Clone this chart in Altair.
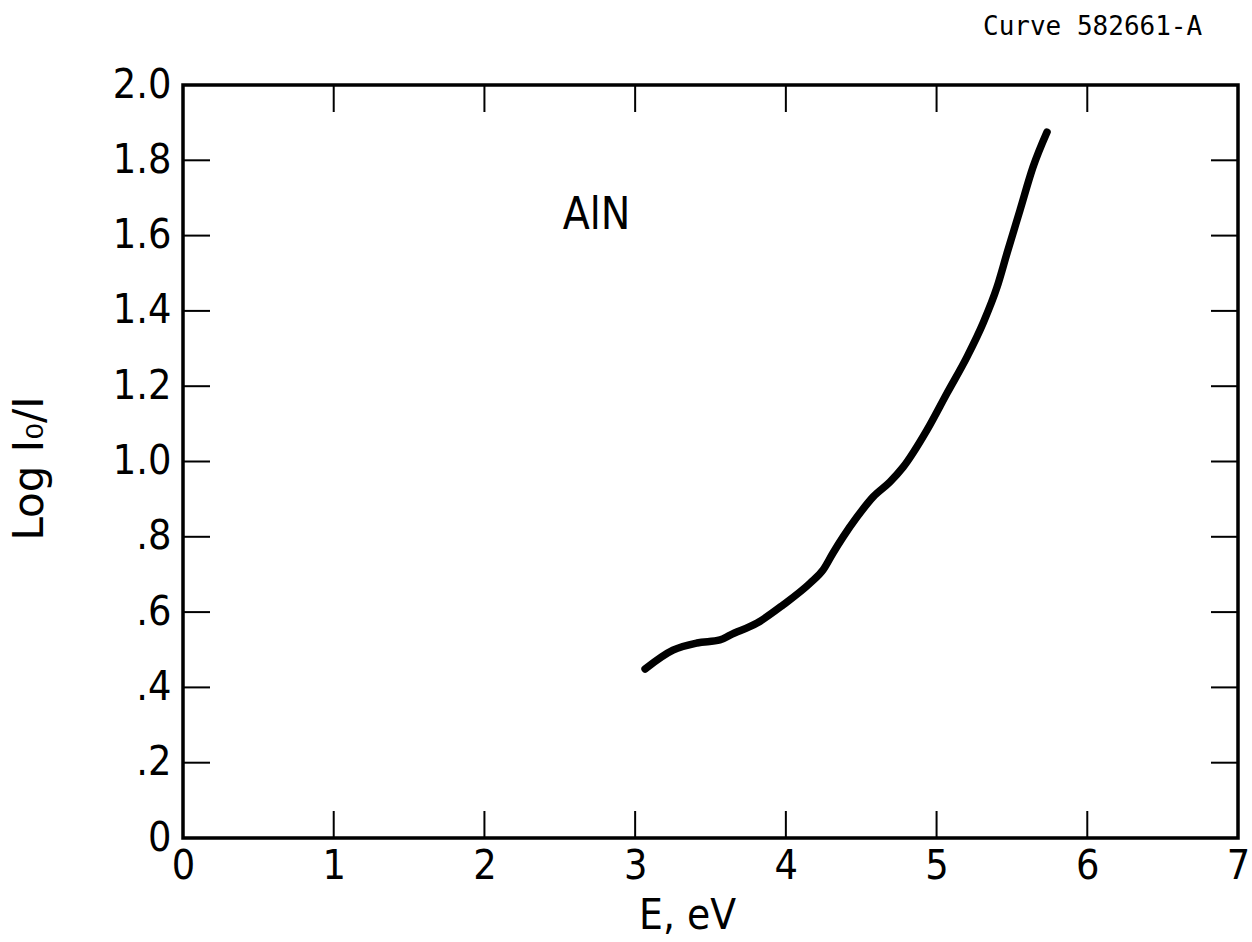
import altair as alt
import pandas as pd

# Absorption curve of AlN: photon energy (eV) vs. log(I0/I)
energy_ev = [3.066, 3.251, 3.411, 3.563, 3.630, 3.809, 3.981, 4.161, 4.247, 4.313,
             4.379, 4.473, 4.579, 4.691, 4.778, 4.937, 5.070, 5.202, 5.309, 5.401,
             5.468, 5.554, 5.640, 5.733]
log_i0_i = [0.449, 0.499, 0.518, 0.526, 0.539, 0.571, 0.619, 0.677, 0.712, 0.757,
            0.799, 0.853, 0.906, 0.946, 0.985, 1.084, 1.182, 1.278, 1.368, 1.463,
            1.554, 1.668, 1.782, 1.875]

x_ticks = [0, 1, 2, 3, 4, 5, 6, 7]
y_ticks = [0.0, 0.2, 0.4, 0.6, 0.8, 1.0, 1.2, 1.4, 1.6, 1.8, 2.0]
y_tick_labels = ["0", ".2", ".4", ".6", ".8", "1.0", "1.2", "1.4", "1.6", "1.8", "2.0"]

W, H = 1055, 753
TICK = 27
LABEL_FONT = "Liberation Sans Narrow, DejaVu Sans Condensed, Roboto Condensed, sans-serif"

curve = pd.DataFrame({"E": energy_ev, "logI": log_i0_i})
inner_x = pd.DataFrame({"E": x_ticks[1:-1]})
inner_y = pd.DataFrame({"logI": y_ticks[1:-1]})

# y tick label text, e.g. ".6" instead of "0.6"
label_expr = "''"
for v, t in reversed(list(zip(y_ticks, y_tick_labels))):
    label_expr = f"abs(datum.value - {v}) < 0.01 ? '{t}' : ({label_expr})"

x_scale = alt.Scale(domain=[0, 7], nice=False, zero=False)
y_scale = alt.Scale(domain=[0, 2.0], nice=False, zero=False)

x_axis = alt.Axis(
    values=x_ticks, format="d", ticks=False, domain=False, grid=False,
    labelFont=LABEL_FONT, labelFontSize=41, labelColor="black", labelPadding=8,
    labelFlush=False,
    title="E, eV", titleFont=LABEL_FONT, titleFontSize=42, titleFontWeight="normal",
    titleColor="black", titleX=504, titleY=90, titleBaseline="alphabetic",
    titleAlign="center", titleAnchor="start",
)
y_axis = alt.Axis(
    values=y_ticks, labelExpr=label_expr, ticks=False, domain=False, grid=False,
    labelFont=LABEL_FONT, labelFontSize=41, labelColor="black", labelPadding=12,
    labelFlush=False,
    title="Log I₀/I", titleFont="DejaVu Sans", titleFontSize=42,
    titleFontWeight="normal", titleColor="black", titleX=-141, titleY=383,
    titleAngle=-90, titleBaseline="alphabetic", titleAlign="center",
    titleAnchor="start",
)

line = alt.Chart(curve).mark_line(
    color="black", strokeWidth=7.5, strokeCap="round", strokeJoin="round",
    interpolate="monotone",
).encode(
    x=alt.X("E:Q", scale=x_scale, axis=x_axis),
    y=alt.Y("logI:Q", scale=y_scale, axis=y_axis),
)

tick_style = dict(color="black", strokeWidth=2)
bottom_ticks = alt.Chart(inner_x).mark_rule(**tick_style).encode(
    x=alt.X("E:Q", scale=x_scale), y=alt.value(H), y2=alt.value(H - TICK))
top_ticks = alt.Chart(inner_x).mark_rule(**tick_style).encode(
    x=alt.X("E:Q", scale=x_scale), y=alt.value(0), y2=alt.value(TICK))
left_ticks = alt.Chart(inner_y).mark_rule(**tick_style).encode(
    y=alt.Y("logI:Q", scale=y_scale), x=alt.value(0), x2=alt.value(TICK))
right_ticks = alt.Chart(inner_y).mark_rule(**tick_style).encode(
    y=alt.Y("logI:Q", scale=y_scale), x=alt.value(W), x2=alt.value(W - TICK))

sample = alt.Chart(pd.DataFrame({"E": [2.744], "logI": [1.652], "t": ["AlN"]})).mark_text(
    font=LABEL_FONT, fontSize=44, color="black", align="center", baseline="middle",
).encode(x=alt.X("E:Q", scale=x_scale), y=alt.Y("logI:Q", scale=y_scale), text="t:N")

curve_id = alt.Chart(pd.DataFrame({"t": ["Curve 582661-A"]})).mark_text(
    font="DejaVu Sans Mono", fontSize=26, color="black", align="left", baseline="middle",
).encode(x=alt.value(800), y=alt.value(-58), text="t:N")

chart = alt.layer(
    line, bottom_ticks, top_ticks, left_ticks, right_ticks, sample, curve_id
).properties(
    width=W, height=H,
    autosize=alt.AutoSizeParams(type="none"),
    padding={"left": 183, "top": 85, "right": 14, "bottom": 104},
    background="white",
).configure_view(stroke="black", strokeWidth=3.5)

chart.save("out.html", embed_options={"renderer": "svg", "actions": False})
